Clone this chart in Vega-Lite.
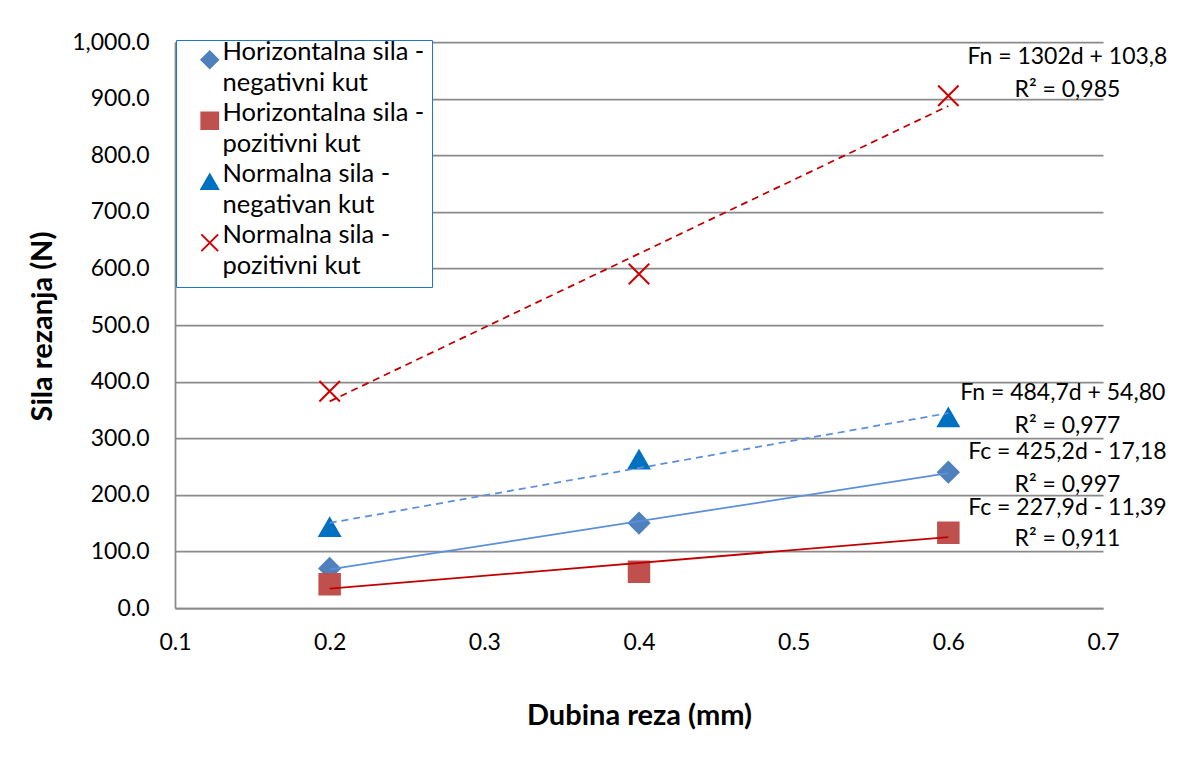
{
  "$schema": "https://vega.github.io/schema/vega-lite/v6.json",
  "width": 928,
  "height": 566,
  "autosize": {"type": "none"},
  "padding": {"left": 175, "top": 42, "right": 76, "bottom": 168},
  "background": "white",
  "config": {
    "view": {"stroke": null},
    "font": "Lato",
    "style": {"guide-label": {"lineHeight": 31}},
    "axis": {
      "labelFont": "Lato",
      "labelFontSize": 23,
      "labelColor": "black",
      "labelFlush": false,
      "titleFont": "Lato",
      "titleFontSize": 29,
      "titleFontWeight": "bold",
      "titleColor": "black",
      "domainColor": "#8a8a8a",
      "domainWidth": 1.75,
      "gridColor": "#8a8a8a",
      "gridWidth": 1.75,
      "ticks": false
    },
    "legend": {
      "orient": "none",
      "legendX": 1,
      "legendY": -2,
      "labelFont": "Lato",
      "labelFontSize": 25.5,
      "labelColor": "black",
      "labelBaseline": "alphabetic",
      "labelOffset": 0,
      "labelLimit": 400,
      "strokeColor": "#1F78C8",
      "fillColor": "white",
      "padding": 7,
      "symbolOffset": 14,
      "symbolSize": 280,
      "symbolStrokeWidth": 2,
      "rowPadding": 3
    }
  },
  "datasets": {
    "points": [
      {"d": 0.2, "F": 70, "series": "Horizontalna sila - negativni kut"},
      {"d": 0.4, "F": 150, "series": "Horizontalna sila - negativni kut"},
      {"d": 0.6, "F": 240, "series": "Horizontalna sila - negativni kut"},
      {"d": 0.2, "F": 42, "series": "Horizontalna sila - pozitivni kut"},
      {"d": 0.4, "F": 64, "series": "Horizontalna sila - pozitivni kut"},
      {"d": 0.6, "F": 133, "series": "Horizontalna sila - pozitivni kut"},
      {"d": 0.2, "F": 143, "series": "Normalna sila - negativan kut"},
      {"d": 0.4, "F": 262, "series": "Normalna sila - negativan kut"},
      {"d": 0.6, "F": 337, "series": "Normalna sila - negativan kut"},
      {"d": 0.2, "F": 383, "series": "Normalna sila - pozitivni kut"},
      {"d": 0.4, "F": 590, "series": "Normalna sila - pozitivni kut"},
      {"d": 0.6, "F": 905, "series": "Normalna sila - pozitivni kut"}
    ],
    "labels": [
      {"d": 0.677, "F": 973, "t": "Fn = 1302d + 103,8"},
      {"d": 0.677, "F": 915, "t": "R² = 0,985"},
      {"d": 0.674, "F": 380, "t": "Fn = 484,7d + 54,80"},
      {"d": 0.677, "F": 322, "t": "R² = 0,977"},
      {"d": 0.677, "F": 276, "t": "Fc = 425,2d - 17,18"},
      {"d": 0.677, "F": 218, "t": "R² = 0,997"},
      {"d": 0.677, "F": 177, "t": "Fc = 227,9d - 11,39"},
      {"d": 0.677, "F": 122, "t": "R² = 0,911"}
    ]
  },
  "layer": [
    {
      "data": {"name": "points"},
      "mark": {"type": "point", "filled": true, "size": 420, "opacity": 1, "strokeWidth": 2},
      "encoding": {
        "x": {
          "field": "d",
          "type": "quantitative",
          "scale": {"domain": [0.1, 0.7], "nice": false, "zero": false},
          "axis": {
            "values": [0.1, 0.2, 0.3, 0.4, 0.5, 0.6, 0.7],
            "format": ".1f",
            "grid": false,
            "labelPadding": 23,
            "title": "Dubina reza (mm)",
            "titleX": 464,
            "titleY": 107,
            "titleBaseline": "middle",
            "titleAlign": "center"
          }
        },
        "y": {
          "field": "F",
          "type": "quantitative",
          "scale": {"domain": [0, 1000], "nice": false},
          "axis": {
            "values": [0, 100, 200, 300, 400, 500, 600, 700, 800, 900, 1000],
            "format": ",.1f",
            "grid": true,
            "labelPadding": 26,
            "title": "Sila rezanja (N)",
            "titleAngle": 270,
            "titleX": -133,
            "titleY": 284,
            "titleAlign": "center",
            "titleBaseline": "middle"
          }
        },
        "color": {
          "field": "series",
          "type": "nominal",
          "scale": {
            "domain": ["Horizontalna sila - negativni kut", "Horizontalna sila - pozitivni kut", "Normalna sila - negativan kut", "Normalna sila - pozitivni kut"],
            "range": ["#4F81BD", "#C0504D", "#0070C0", "#D00000"]
          },
          "legend": {
            "title": null,
            "labelExpr": "split(replace(datum.label, ' - ', ' -|'), '|')"
          }
        },
        "shape": {
          "field": "series",
          "type": "nominal",
          "scale": {
            "domain": ["Horizontalna sila - negativni kut", "Horizontalna sila - pozitivni kut", "Normalna sila - negativan kut", "Normalna sila - pozitivni kut"],
            "range": ["diamond", "square", "triangle-up", "M-1,-1L1,1M-1,1L1,-1"]
          },
          "legend": {
            "title": null,
            "labelExpr": "split(replace(datum.label, ' - ', ' -|'), '|')"
          }
        },
        "stroke": {
          "field": "series",
          "type": "nominal",
          "scale": {
            "domain": ["Horizontalna sila - negativni kut", "Horizontalna sila - pozitivni kut", "Normalna sila - negativan kut", "Normalna sila - pozitivni kut"],
            "range": ["#4F81BD", "#C0504D", "#0070C0", "#D00000"]
          },
          "legend": {
            "title": null,
            "labelExpr": "split(replace(datum.label, ' - ', ' -|'), '|')"
          }
        }
      }
    },
    {
      "data": {"name": "points"},
      "transform": [
        {"filter": "datum.series === 'Normalna sila - pozitivni kut'"},
        {"regression": "F", "on": "d", "extent": [0.2, 0.6]}
      ],
      "mark": {"type": "line", "color": "#C00000", "strokeWidth": 1.75, "strokeDash": [7, 5]},
      "encoding": {"x": {"field": "d", "type": "quantitative"}, "y": {"field": "F", "type": "quantitative"}}
    },
    {
      "data": {"name": "points"},
      "transform": [
        {"filter": "datum.series === 'Normalna sila - negativan kut'"},
        {"regression": "F", "on": "d", "extent": [0.2, 0.6]}
      ],
      "mark": {"type": "line", "color": "#5B8FDB", "strokeWidth": 1.75, "strokeDash": [7, 5]},
      "encoding": {"x": {"field": "d", "type": "quantitative"}, "y": {"field": "F", "type": "quantitative"}}
    },
    {
      "data": {"name": "points"},
      "transform": [
        {"filter": "datum.series === 'Horizontalna sila - negativni kut'"},
        {"regression": "F", "on": "d", "extent": [0.2, 0.6]}
      ],
      "mark": {"type": "line", "color": "#5B8FDB", "strokeWidth": 1.75},
      "encoding": {"x": {"field": "d", "type": "quantitative"}, "y": {"field": "F", "type": "quantitative"}}
    },
    {
      "data": {"name": "points"},
      "transform": [
        {"filter": "datum.series === 'Horizontalna sila - pozitivni kut'"},
        {"regression": "F", "on": "d", "extent": [0.2, 0.6]}
      ],
      "mark": {"type": "line", "color": "#C00000", "strokeWidth": 1.75},
      "encoding": {"x": {"field": "d", "type": "quantitative"}, "y": {"field": "F", "type": "quantitative"}}
    },
    {
      "data": {"name": "labels"},
      "mark": {"type": "text", "font": "Lato", "fontSize": 23, "color": "black", "align": "center", "baseline": "middle"},
      "encoding": {
        "x": {"field": "d", "type": "quantitative"},
        "y": {"field": "F", "type": "quantitative"},
        "text": {"field": "t", "type": "nominal"}
      }
    }
  ]
}
